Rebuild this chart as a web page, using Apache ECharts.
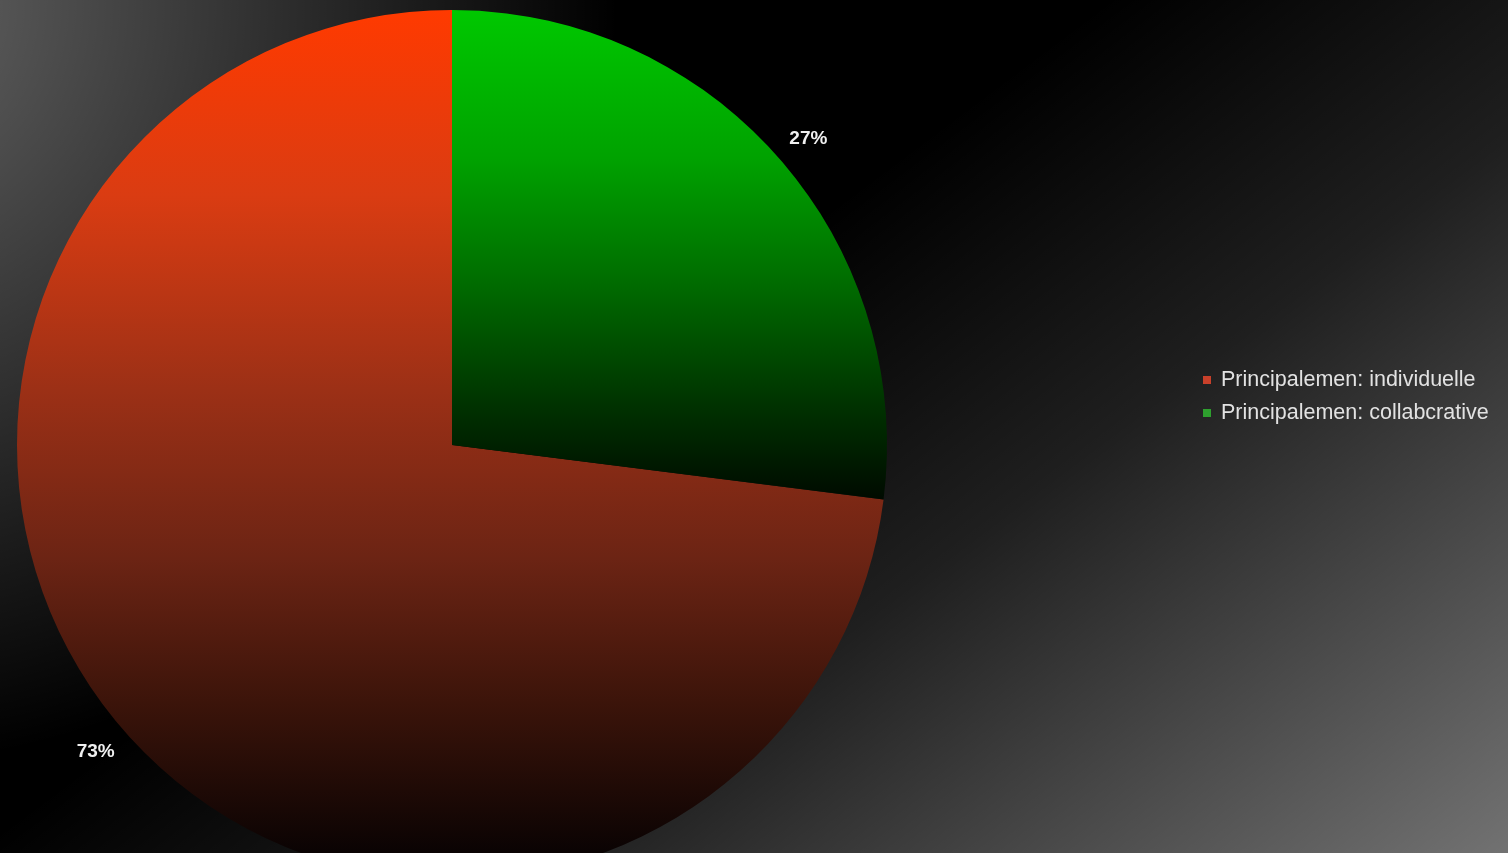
<!DOCTYPE html>
<html>
<head>
<meta charset="utf-8">
<script src="https://cdn.jsdelivr.net/npm/echarts@6/dist/echarts.min.js"></script>
<style>
  html, body { margin: 0; padding: 0; background: #000; }
  #chart { width: 1508px; height: 853px; }
</style>
</head>
<body>
<div id="chart"></div>
<script>
// data
const categories = ['Principalemen: individuelle', 'Principalemen: collabcrative'];
const values = [73, 27];
const legendColors = ['#c8402a', '#2ea02e'];

// vertical fills per slice (pixel coords)
const fills = [
  {
    type: 'linear', global: true, x: 0, y: 10, x2: 0, y2: 853,
    colorStops: [
      { offset: 0, color: '#ff3a00' },
      { offset: 0.22, color: '#da3c12' },
      { offset: 0.45, color: '#9c3016' },
      { offset: 0.65, color: '#6c2414' },
      { offset: 0.82, color: '#3c140a' },
      { offset: 1, color: '#0a0303' },
    ],
  },
  {
    type: 'linear', global: true, x: 0, y: 10, x2: 0, y2: 505,
    colorStops: [
      { offset: 0, color: '#00c800' },
      { offset: 0.3, color: '#00a200' },
      { offset: 0.55, color: '#006c00' },
      { offset: 0.8, color: '#003200' },
      { offset: 1, color: '#000800' },
    ],
  },
];

const chart = echarts.init(document.getElementById('chart'));

const option = {
  backgroundColor: '#000',
  animation: false,
  graphic: [
    {
      type: 'rect',
      z: 0,
      silent: true,
      shape: { x: 0, y: 0, width: 1508, height: 853 },
      style: {
        fill: {
          type: 'linear', global: true, x: 398, y: 531, x2: 998, y2: 1331,
          colorStops: [
            { offset: 0, color: 'rgba(255,255,255,0)' },
            { offset: 0.35, color: 'rgba(255,255,255,0.12)' },
            { offset: 1, color: 'rgba(255,255,255,0.49)' },
          ],
        },
      },
    },
    {
      type: 'rect',
      z: 0,
      silent: true,
      shape: { x: 0, y: 0, width: 1508, height: 853 },
      style: {
        fill: {
          type: 'radial', global: true, x: -150, y: 0, r: 768,
          colorStops: [
            { offset: 0, color: 'rgba(255,255,255,0.41)' },
            { offset: 0.195, color: 'rgba(255,255,255,0.33)' },
            { offset: 1, color: 'rgba(255,255,255,0)' },
          ],
        },
      },
    },
  ],
  legend: {
    orient: 'vertical',
    left: 1198,
    top: 364,
    itemWidth: 8,
    itemHeight: 8,
    itemGap: 11,
    icon: 'rect',
    textStyle: {
      color: '#e2e2e2',
      fontFamily: 'Liberation Sans',
      fontSize: 21.5,
      lineHeight: 22,
      padding: [0, 0, 0, 5],
    },
    data: categories.map((name, i) => ({
      name,
      itemStyle: { color: legendColors[i] },
    })),
  },
  series: [
    {
      type: 'pie',
      center: [452, 445],
      radius: [0, 435],
      startAngle: 90,
      clockwise: false,
      silent: true,
      label: { show: false },
      labelLine: { show: false },
      data: categories.map((name, i) => ({
        name,
        value: values[i],
        itemStyle: { color: fills[i] },
      })),
    },
    {
      // label ring
      type: 'pie',
      center: [452, 445],
      radius: [462, 472],
      startAngle: 89.3,
      clockwise: false,
      silent: true,
      itemStyle: { color: 'rgba(0,0,0,0)' },
      label: {
        show: true,
        position: 'inside',
        formatter: '{d}%',
        color: '#f0f0f0',
        fontFamily: 'Liberation Sans Narrow, Liberation Sans',
        fontWeight: 'bold',
        fontSize: 19,
      },
      labelLine: { show: false },
      data: categories.map((name, i) => ({ name, value: values[i] })),
    },
  ],
};

chart.setOption(option);
</script>
</body>
</html>
